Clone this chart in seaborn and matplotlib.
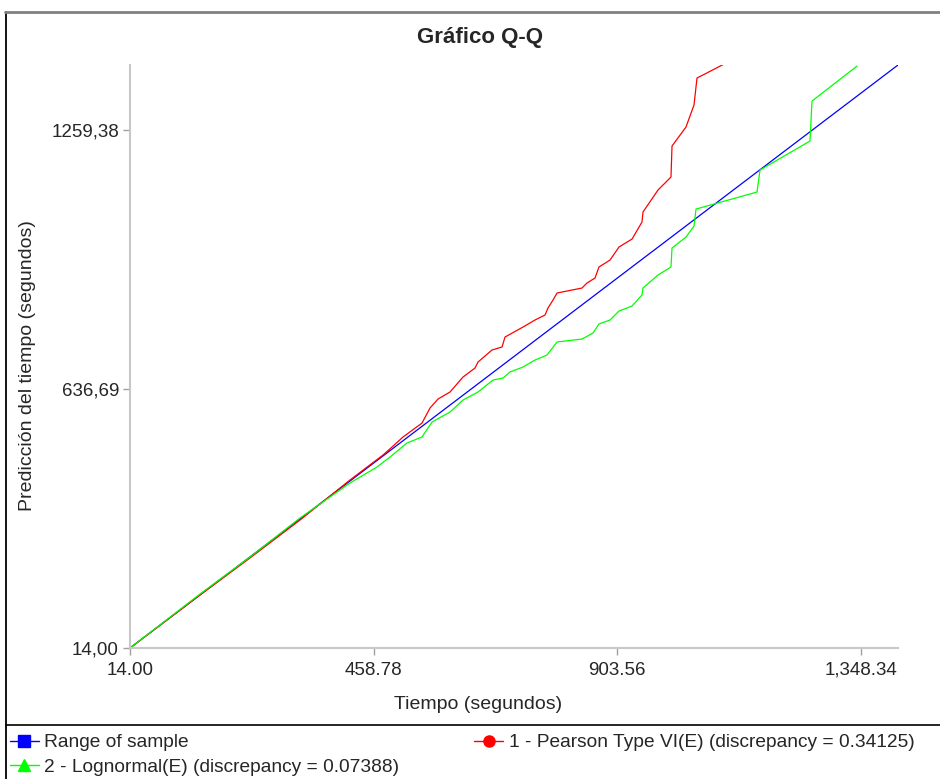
import matplotlib
matplotlib.use("Agg")
import matplotlib.pyplot as plt
from matplotlib.lines import Line2D
import pandas as pd
import seaborn as sns

# Q-Q data
range_x = [14.0, 1415.76]
range_y = [14.0, 1415.76]

pearson_x = [14.0, 141.8, 233.0, 324.3, 415.5, 475.8, 492.2, 512.3, 547.0, 561.6,
             576.2, 598.1, 621.8, 643.7, 649.2, 674.7, 693.0, 698.5, 731.3, 753.2,
             771.5, 776.9, 786.1, 793.4, 839.0, 848.1, 862.7, 870.0, 890.1, 906.5,
             930.3, 948.5, 950.3, 977.7, 1001.4, 1003.3, 1028.8, 1043.4, 1048.9, 1158.4]
pearson_y = [14.0, 141.4, 230.4, 321.7, 417.9, 478.0, 497.2, 521.3, 554.9, 591.0,
             612.6, 629.5, 665.5, 687.2, 701.6, 730.5, 737.7, 761.7, 785.7, 802.6,
             814.6, 831.4, 850.7, 867.5, 879.5, 891.5, 903.6, 930.0, 946.8, 978.1,
             997.3, 1038.2, 1062.2, 1115.1, 1146.4, 1220.9, 1266.6, 1319.5, 1384.4, 1458.9]

lognormal_x = [14.0, 141.8, 233.0, 324.3, 415.5, 464.8, 488.6, 519.6, 547.0, 565.2,
               598.1, 621.8, 649.2, 676.6, 694.8, 707.6, 731.3, 753.2, 775.1, 793.4,
               839.0, 859.1, 870.0, 890.1, 906.5, 930.3, 948.5, 950.3, 977.7, 1001.4,
               1003.3, 1028.8, 1043.4, 1047.1, 1158.4, 1163.9, 1255.1, 1258.8, 1341.0]
lognormal_y = [14.0, 143.8, 232.8, 326.5, 410.7, 449.2, 473.2, 506.9, 521.3, 557.3,
               581.4, 610.2, 629.5, 658.3, 663.1, 677.6, 689.6, 706.4, 718.4, 749.7,
               756.9, 771.3, 793.0, 802.6, 824.2, 836.2, 862.7, 879.5, 910.8, 930.0,
               975.7, 1002.1, 1028.6, 1069.4, 1110.3, 1163.2, 1232.9, 1329.1, 1413.2]

x_ticks = [14.00, 458.78, 903.56, 1348.34]
x_ticklabels = ["14.00", "458.78", "903.56", "1,348.34"]
y_ticks = [14.00, 636.69, 1259.38]
y_ticklabels = ["14,00", "636,69", "1259,38"]

labels = ["Range of sample",
          "1 - Pearson Type VI(E) (discrepancy = 0.34125)",
          "2 - Lognormal(E) (discrepancy = 0.07388)"]
colors = ["#0000ff", "#ff0000", "#00ff00"]
markers = ["s", "o", "^"]

sns.set_style("white")
plt.rcParams["font.family"] = ["Liberation Sans", "DejaVu Sans"]

fig = plt.figure(figsize=(9.4, 7.79), dpi=100)
ax = fig.add_axes([130 / 940, 131 / 779, 768 / 940, 583 / 779])

df_range = pd.DataFrame({"x": range_x, "y": range_y})
df_pearson = pd.DataFrame({"x": pearson_x, "y": pearson_y})
df_logn = pd.DataFrame({"x": lognormal_x, "y": lognormal_y})

sns.lineplot(data=df_range, x="x", y="y", ax=ax, color=colors[0], lw=0.9, sort=False, estimator=None)
sns.lineplot(data=df_pearson, x="x", y="y", ax=ax, color=colors[1], lw=0.9, sort=False, estimator=None)
sns.lineplot(data=df_logn, x="x", y="y", ax=ax, color=colors[2], lw=0.9, sort=False, estimator=None)

ax.set_xlim(14.0, 1415.76)
ax.set_ylim(14.0, 1415.76)
ax.set_xticks(x_ticks)
ax.set_xticklabels(x_ticklabels)
ax.set_yticks(y_ticks)
ax.set_yticklabels(y_ticklabels)
ax.tick_params(axis="both", bottom=True, left=True, length=5, width=1,
               color="#a0a0a0", labelsize=13.5)
ax.tick_params(axis="x", pad=5)
ax.tick_params(axis="y", pad=3)

for side in ["top", "right"]:
    ax.spines[side].set_visible(False)
for side in ["left", "bottom"]:
    ax.spines[side].set_color("#c8c8c8")
    ax.spines[side].set_linewidth(1.5)

ax.set_xlabel("Tiempo (segundos)", fontsize=14)
ax.set_ylabel("Predicción del tiempo (segundos)", fontsize=14)
ax.xaxis.set_label_coords(0.453, -0.082)
ax.yaxis.set_label_coords(-0.122, 0.484)

fig.text(480 / 940, 1 - 37 / 779, "Gráfico Q-Q", ha="center", va="center",
         fontsize=16, fontweight="bold")

# frame lines around the chart
fig.add_artist(Line2D([6 / 940, 6 / 940], [0, 1 - 12 / 779], color="black", lw=1.3))
fig.add_artist(Line2D([5 / 940, 1], [1 - 12 / 779, 1 - 12 / 779], color="#808080", lw=2))
fig.add_artist(Line2D([6 / 940, 1], [1 - 725 / 779, 1 - 725 / 779], color="black", lw=1.2))

handles = [Line2D([], [], color=c, marker=m, markersize=8, lw=1) for c, m in zip(colors, markers)]
order = [0, 2, 1]
fig.legend([handles[i] for i in order], [labels[i] for i in order],
           loc="upper left", bbox_to_anchor=(10 / 940, 1 - 734 / 779), ncol=2,
           frameon=False, fontsize=13.8, handlelength=1.5, handletextpad=0.3,
           columnspacing=3.9, borderaxespad=0, borderpad=0, labelspacing=0.38)

fig.savefig("out.png", dpi=100)
